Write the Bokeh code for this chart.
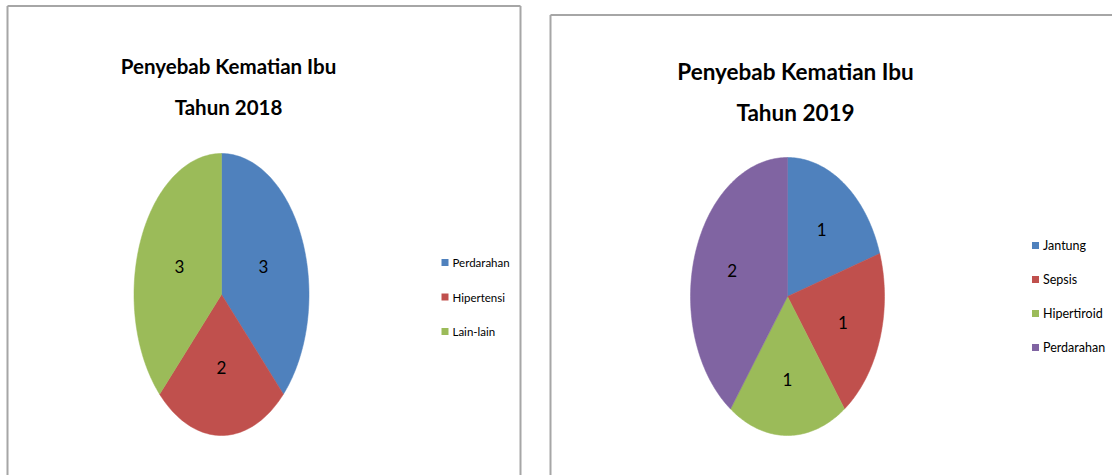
import math
from bokeh.plotting import figure
from bokeh.models import Range1d
from bokeh.core.properties import value
from bokeh.embed import file_html
from bokeh.resources import INLINE

# ---------------- data ----------------
title_2018 = ["Penyebab Kematian Ibu", "Tahun 2018"]
cats_2018 = ["Perdarahan", "Hipertensi", "Lain-lain"]
vals_2018 = [3, 2, 3]
colors_2018 = ["#4F81BD", "#C0504D", "#9BBB59"]

title_2019 = ["Penyebab Kematian Ibu", "Tahun 2019"]
cats_2019 = ["Jantung", "Sepsis", "Hipertiroid", "Perdarahan"]
vals_2019 = [1, 1, 1, 2]
colors_2019 = ["#4F81BD", "#C0504D", "#9BBB59", "#8064A2"]

# ---------------- styling ----------------
FONT = "Lato"
W, H = 1112, 475

p = figure(width=W, height=H,
           x_range=Range1d(0, W), y_range=Range1d(H, 0),
           output_backend="svg", toolbar_location=None, min_border=0,
           x_axis_location=None, y_axis_location=None)
p.grid.visible = False
p.outline_line_color = None
p.background_fill_color = "white"
p.border_fill_color = "white"

# chart area frames
p.multi_line(xs=[[7, 7], [7, 520], [520, 520], [550, 550], [550, 1120]],
             ys=[[490, 5.5], [5.5, 5.5], [5.5, 490], [490, 14.5], [14.5, 14.5]],
             line_color="#a6a6a6", line_width=2)


def draw_pie(cx, cy, rx, ry, vals, colors, cats, titles, title_cx, title_mid,
             title_size, leg_x, leg_y0, leg_dy, leg_size, lab_frac):
    total = float(sum(vals))
    xs, ys, lx, ly, lt = [], [], [], [], []
    start = 0.0
    for v in vals:
        span = 360.0 * v / total
        n = max(int(span), 4)
        angs = [math.radians(start + span * i / n) for i in range(n + 1)]
        xs.append([cx] + [cx + rx * math.sin(a) for a in angs])
        ys.append([cy] + [cy - ry * math.cos(a) for a in angs])
        mid = math.radians(start + span / 2)
        lx.append(cx + lab_frac * rx * math.sin(mid))
        ly.append(cy - lab_frac * ry * math.cos(mid))
        lt.append(str(v))
        start += span
    p.patches(xs=xs, ys=ys, fill_color=colors, line_color=colors, line_width=0.5)
    p.text(x=lx, y=ly, text=lt, text_font=value(FONT), text_font_size="17px",
           text_align="center", text_baseline="middle", text_color="black")
    # titles
    p.text(x=[title_cx] * len(titles), y=[title_mid + 41 * i for i in range(len(titles))],
           text=titles, text_font=value(FONT), text_font_size=title_size,
           text_font_style="bold", text_align="center", text_baseline="middle",
           text_color="black")
    # legend
    ly2 = [leg_y0 + leg_dy * i for i in range(len(cats))]
    p.rect(x=[leg_x] * len(cats), y=ly2, width=7, height=7,
           fill_color=colors, line_color=None)
    p.text(x=[leg_x + 7.5] * len(cats), y=ly2, text=cats, text_font=value(FONT),
           text_font_size=leg_size, text_align="left", text_baseline="middle",
           text_color="black")


draw_pie(221, 294, 87.5, 141, vals_2018, colors_2018, cats_2018, title_2018,
         228, 65, "20.5px", 444.5, 262, 34.5, "11.5px", 0.52)
draw_pie(787, 296, 97, 139, vals_2019, colors_2019, cats_2019, title_2019,
         795, 71, "22.5px", 1035, 245, 34, "12.5px", 0.6)

open("out.html", "w").write(file_html(p, INLINE))
